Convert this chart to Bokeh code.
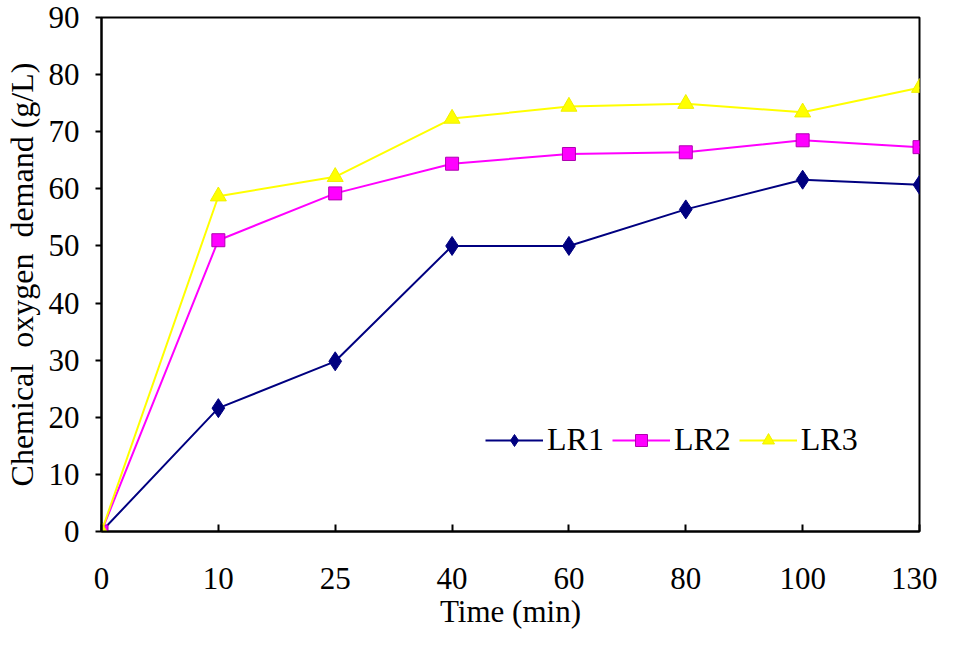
from bokeh.plotting import figure
from bokeh.models import Range1d, FixedTicker, Legend, LegendItem
from bokeh.embed import file_html
from bokeh.resources import INLINE

time_labels = ["0", "10", "25", "40", "60", "80", "100", "130"]
lr1 = [0, 21.6, 29.8, 50.0, 50.0, 56.4, 61.6, 60.7]
lr2 = [0, 51.0, 59.2, 64.4, 66.1, 66.4, 68.5, 67.3]
lr3 = [0, 58.7, 62.1, 72.3, 74.4, 74.9, 73.4, 77.7]
y_ticks = [0, 10, 20, 30, 40, 50, 60, 70, 80, 90]

FONT = "Liberation Serif"
xs = list(range(len(time_labels)))

p = figure(width=937, height=631, output_backend="svg", toolbar_location=None,
           x_range=Range1d(0, len(time_labels) - 1), y_range=Range1d(0, 90),
           min_border_left=100, min_border_right=18, min_border_top=17, min_border_bottom=99)
p.xgrid.visible = False
p.ygrid.visible = False
p.outline_line_color = "black"
p.outline_line_width = 2
p.background_fill_color = "white"
p.border_fill_color = "white"

p.xaxis.ticker = FixedTicker(ticks=xs)
p.xaxis.major_label_overrides = {i: t for i, t in enumerate(time_labels)}
p.yaxis.ticker = FixedTicker(ticks=y_ticks)

for ax in (p.xaxis[0], p.yaxis[0]):
    ax.axis_line_color = "black"
    ax.axis_line_width = 2
    ax.major_tick_line_color = "black"
    ax.major_tick_line_width = 2
    ax.minor_tick_line_color = None
    ax.major_label_text_font = FONT
    ax.major_label_text_font_size = "31px"
    ax.major_label_text_color = "black"
    ax.axis_label_text_font = FONT
    ax.axis_label_text_font_size = "31px"
    ax.axis_label_text_font_style = "normal"
    ax.axis_label_text_color = "black"

p.xaxis.major_tick_in = 7
p.xaxis.major_tick_out = 0
p.xaxis.major_label_standoff = 36
p.xaxis.axis_label = "Time (min)"
p.xaxis.axis_label_standoff = 2

p.yaxis.major_tick_in = 0
p.yaxis.major_tick_out = 6
p.yaxis.major_label_standoff = 16
p.yaxis.axis_label = "Chemical\u00a0\u00a0oxygen\u00a0\u00a0demand (g/L)"
p.yaxis.axis_label_text_font_size = "32px"
p.yaxis.axis_label_standoff = 6

l1 = p.line(xs, lr1, line_color="#000080", line_width=2)
s1 = p.scatter(xs, lr1, marker="diamond", size=19, fill_color="#000080", line_color="#000080")
l2 = p.line(xs, lr2, line_color="#FF00FF", line_width=2)
s2 = p.scatter(xs, lr2, marker="square", size=13, fill_color="#FF00FF", line_color="#B000B0")
l3 = p.line(xs, lr3, line_color="#FFFF00", line_width=2)
s3 = p.scatter(xs, lr3, marker="triangle", size=16, fill_color="#FFFF00", line_color="#F0F000")

legend = Legend(items=[LegendItem(label="LR1", renderers=[l1, s1]),
                       LegendItem(label="LR2", renderers=[l2, s2]),
                       LegendItem(label="LR3", renderers=[l3, s3])],
                orientation="horizontal", location=(384, 73),
                glyph_width=58, glyph_height=30, label_standoff=4, spacing=8,
                padding=0, margin=0,
                border_line_color=None, background_fill_alpha=0,
                label_text_font=FONT, label_text_font_size="32px", label_text_color="black")
p.add_layout(legend, "center")

open("out.html", "w").write(file_html(p, INLINE))
